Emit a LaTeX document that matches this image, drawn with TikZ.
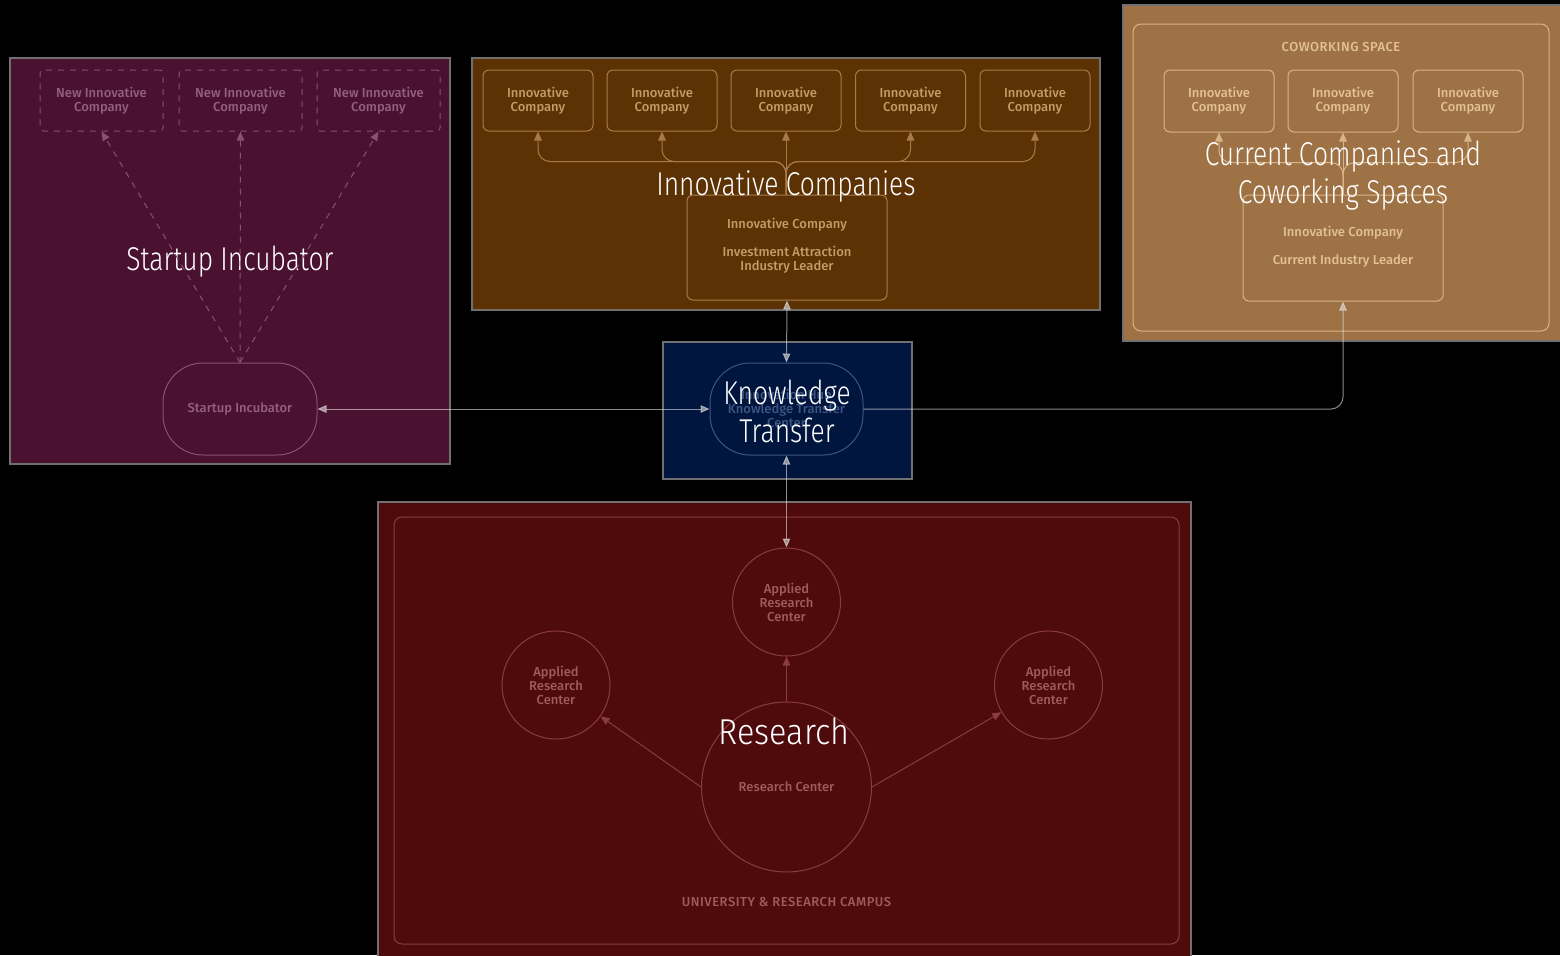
\documentclass[tikz,border=0pt]{standalone}
\usepackage{fontspec}
\setmainfont{Fira Sans}[UprightFont={* Medium}]
\newfontfamily\titlefont{Fira Sans}[FakeStretch=0.8, UprightFont={* Light}]
\newfontfamily\restitlefont{Fira Sans}[FakeStretch=0.9, UprightFont={* Light}]
\usetikzlibrary{arrows.meta}
\definecolor{startfill}{HTML}{4A1230}
\definecolor{startline}{HTML}{8C4F72}
\definecolor{starttext}{HTML}{946080}
\definecolor{innofill}{HTML}{5C3205}
\definecolor{innoline}{HTML}{A87A4A}
\definecolor{innotext}{HTML}{C49A6A}
\definecolor{ktfill}{HTML}{00163F}
\definecolor{ktline}{HTML}{3E5584}
\definecolor{kttext}{HTML}{3E5584}
\definecolor{curfill}{HTML}{9E7245}
\definecolor{curline}{HTML}{D9B585}
\definecolor{curtext}{HTML}{E3C195}
\definecolor{resfill}{HTML}{4F0A0C}
\definecolor{resline}{HTML}{8A3B3D}
\definecolor{restext}{HTML}{A05A5C}
\definecolor{frame}{HTML}{707070}
\tikzset{
  small/.style={font=\fontsize{6.5}{7}\selectfont, align=center, inner sep=0pt},
  caps/.style={font=\fontsize{6.5}{7}\selectfont\addfontfeatures{LetterSpace=4}, align=center, inner sep=0pt},
  bigtitle/.style={font=\titlefont\fontsize{16.5}{19}\selectfont, text=white, align=center, inner sep=0pt},
  tip/.style={-{Triangle[length=4.5pt,width=3.8pt]}},
  dtip/.style={{Triangle[length=4.5pt,width=3.8pt]}-{Triangle[length=4.5pt,width=3.8pt]}},
  frm/.style={draw=frame, line width=1pt},
  newco/.style={draw=startline, dashed, rounded corners=1.5pt, minimum width=61.5pt, minimum height=30.5pt, text=starttext, small},
  innoco/.style={draw=innoline, rounded corners=3pt, minimum width=55pt, minimum height=30.5pt, text=innotext, small},
  curco/.style={draw=curline, rounded corners=3pt, minimum width=55pt, minimum height=31pt, text=curtext, small},
  arc/.style={draw=resline, circle, minimum size=54pt, text=restext, small},
  conn/.style={draw=white!80!gray, draw opacity=0.6, fill opacity=0.6, line width=0.5pt},
}
\begin{document}
\begin{tikzpicture}[x=0.5pt, y=-0.5pt, line width=0.5pt]
\fill[black] (0,0) rectangle (1560,955);
\useasboundingbox (0,0) rectangle (1560,955);

% ---------- Startup incubator
\draw[frm, fill=startfill] (10,58) rectangle (450,464);
\node[newco] (n1) at (101.5,100.5) {New Innovative\\Company};
\node[newco] (n2) at (240.5,100.5) {New Innovative\\Company};
\node[newco] (n3) at (378.5,100.5) {New Innovative\\Company};
\node[bigtitle] (tsi) at (230,262) {Startup Incubator};
\node[draw=startline, rounded corners=20pt, minimum width=77pt, minimum height=46pt, text=starttext, small] (si) at (240,409) {Startup Incubator};
\draw[startline, dashed, tip] (si.north) -- (n1.south);
\draw[startline, dashed, tip] (si.north) -- (n2.south);
\draw[startline, dashed, tip] (si.north) -- (n3.south);

% ---------- Innovative companies
\draw[frm, fill=innofill] (472,58) rectangle (1100,310);
\node[innoco] (c1) at (538,100.5) {Innovative\\Company};
\node[innoco] (c2) at (662,100.5) {Innovative\\Company};
\node[innoco] (c3) at (786,100.5) {Innovative\\Company};
\node[innoco] (c4) at (910.5,100.5) {Innovative\\Company};
\node[innoco] (c5) at (1035,100.5) {Innovative\\Company};
\node[draw=innoline, rounded corners=3pt, minimum width=100pt, minimum height=52.5pt] (ic) at (787,247.5) {};
\node[small, text=innotext] (ic1) at (787,225) {Innovative Company};
\node[small, text=innotext] (ic2) at (787,259.5) {Investment Attraction\\Industry Leader};
\draw[innoline, tip] (ic.north -| c3.south) -- (c3.south);
\foreach \c in {c1,c2,c4,c5}{
  \draw[innoline, tip, rounded corners=6pt] (ic.north -| c3.south) -- ++(0,-33) -| (\c.south);
}
\node[bigtitle] (tic) at (786,186) {Innovative Companies};

% ---------- Current companies and coworking
\draw[frm, fill=curfill] (1123,5) rectangle (1575,341);
\draw[curline, rounded corners=4pt] (1133,24) rectangle (1549,331);
\node[caps, text=curtext] (cw) at (1341,47) {COWORKING SPACE};
\node[curco] (k1) at (1219,101) {Innovative\\Company};
\node[curco] (k2) at (1343,101) {Innovative\\Company};
\node[curco] (k3) at (1468,101) {Innovative\\Company};
\node[draw=curline, rounded corners=3pt, minimum width=100pt, minimum height=53pt] (cl) at (1343,248) {};
\node[small, text=curtext] (cl1) at (1343,233) {Innovative Company};
\node[small, text=curtext] (cl2) at (1343,261) {Current Industry Leader};
\draw[curline, tip] (cl.north) -- (k2.south);
\draw[curline, tip, rounded corners=6pt] (cl.north) -- ++(0,-32) -| (k1.south);
\draw[curline, tip, rounded corners=6pt] (cl.north) -- ++(0,-32) -| (k3.south);
\node[bigtitle] (tcur) at (1343,175) {Current Companies and\\Coworking Spaces};

% ---------- Knowledge transfer
\draw[frm, fill=ktfill] (663,342) rectangle (912,479);
\node[draw=ktline, rounded corners=20pt, minimum width=76.5pt, minimum height=46pt] (kt) at (786.5,409) {};
\node[small, text=kttext] (kt1) at (786.5,408) {Innovation Hub\\Knowledge Transfer\\Center};
\node[bigtitle] (tkt) at (787,411) {Knowledge\\Transfer};

% ---------- Research
\draw[frm, fill=resfill] (378,502) rectangle (1191,965);
\draw[resline, rounded corners=4pt] (394,517) rectangle (1179,944);
\node[arc] (a1) at (786.5,602) {Applied\\Research\\Center};
\node[arc] (a2) at (556,685) {Applied\\Research\\Center};
\node[arc] (a3) at (1048.5,685) {Applied\\Research\\Center};
\node[draw=resline, circle, minimum size=85pt, text=restext, small] (rc) at (786.5,787) {Research Center};
\node[caps, text=restext] (campus) at (786.5,902) {UNIVERSITY \& RESEARCH CAMPUS};
\draw[resline, tip] (rc.north) -- (a1.south);
\draw[resline, tip] (rc.west) -- (a2);
\draw[resline, tip] (rc.east) -- (a3);
\node[bigtitle, font=\restitlefont\fontsize{18}{20}\selectfont] (tres) at (784,731) {Research};

% ---------- connectors from knowledge transfer
\draw[conn, dtip] (kt.north) -- (ic.south);
\draw[conn, dtip] (si.east) -- (kt.west);
\draw[conn, dtip] (kt.south) -- (a1.north);
\draw[conn, tip, rounded corners=6pt] (kt.east) -| (cl.south);
\end{tikzpicture}
\end{document}
